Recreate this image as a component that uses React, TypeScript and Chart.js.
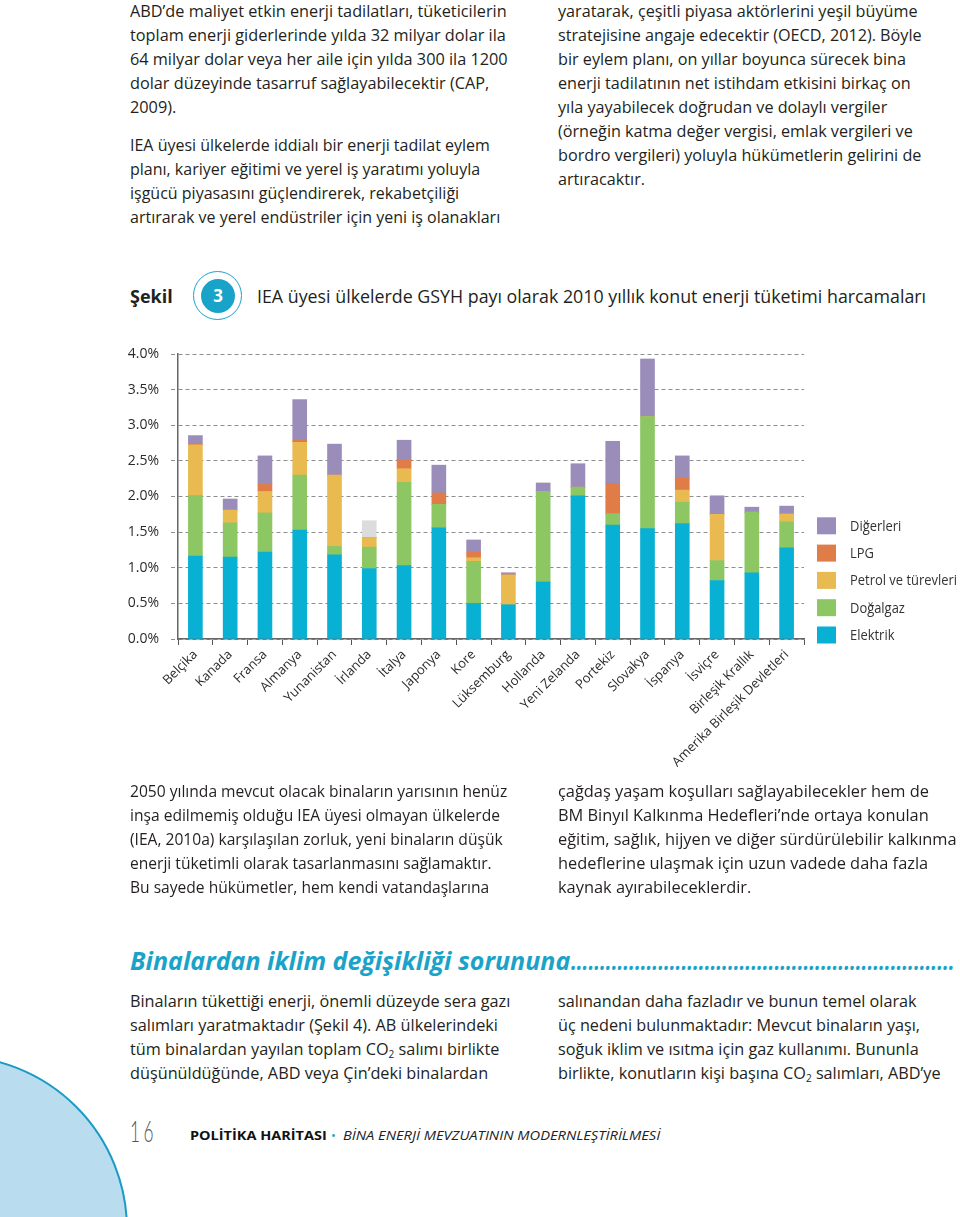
import React, { useEffect, useLayoutEffect, useRef, useState } from "react";
import { Chart, registerables } from "chart.js";
Chart.register(...registerables);

// ---------- chart data ----------
const countries = [
  "Belçika", "Kanada", "Fransa", "Almanya", "Yunanistan", "İrlanda", "İtalya", "Japonya", "Kore",
  "Lüksemburg", "Hollanda", "Yeni Zelanda", "Portekiz", "Slovakya", "İspanya", "İsviçre",
  "Birleşik Krallık", "Amerika Birleşik Devletleri",
];
const elektrik = [1.165, 1.15, 1.22, 1.53, 1.18, 0.99, 1.03, 1.56, 0.5, 0.48, 0.8, 2.01, 1.6, 1.55, 1.62, 0.82, 0.93, 1.28];
const dogalgaz = [0.85, 0.48, 0.55, 0.77, 0.12, 0.3, 1.17, 0.33, 0.59, 0, 1.27, 0.12, 0.155, 1.57, 0.3, 0.28, 0.85, 0.365];
const petrol = [0.71, 0.18, 0.3, 0.46, 1.0, 0.135, 0.19, 0, 0.05, 0.42, 0, 0, 0, 0, 0.17, 0.65, 0, 0.11];
const lpg = [0.02, 0, 0.1, 0.03, 0, 0, 0.13, 0.16, 0.08, 0, 0, 0, 0.43, 0, 0.17, 0, 0, 0];
const digerleri = [0.11, 0.155, 0.4, 0.57, 0.435, 0.235, 0.27, 0.39, 0.17, 0.03, 0.12, 0.33, 0.59, 0.81, 0.31, 0.26, 0.07, 0.11];
const yTicks = [0, 0.5, 1, 1.5, 2, 2.5, 3, 3.5, 4];

const seriesLabels = ["Elektrik", "Doğalgaz", "Petrol ve türevleri", "LPG", "Diğerleri"];
const seriesColors = ["#08b1d4", "#8dc764", "#e9ba4f", "#e07c47", "#9b8dba"];
const otherGrey = "#dcdcdc"; // İrlanda "Diğerleri" segment

// ---------- page text ----------
const topLeftP1 = [
  "ABD’de maliyet etkin enerji tadilatları, tüketicilerin",
  "toplam enerji giderlerinde yılda 32 milyar dolar ila",
  "64 milyar dolar veya her aile için yılda 300 ila 1200",
  "dolar düzeyinde tasarruf sağlayabilecektir (CAP,",
  "2009).",
];
const topLeftP2 = [
  "IEA üyesi ülkelerde iddialı bir enerji tadilat eylem",
  "planı, kariyer eğitimi ve yerel iş yaratımı yoluyla",
  "işgücü piyasasını güçlendirerek, rekabetçiliği",
  "artırarak ve yerel endüstriler için yeni iş olanakları",
];
const topRight = [
  "yaratarak, çeşitli piyasa aktörlerini yeşil büyüme",
  "stratejisine angaje edecektir (OECD, 2012). Böyle",
  "bir eylem planı, on yıllar boyunca sürecek bina",
  "enerji tadilatının net istihdam etkisini birkaç on",
  "yıla yayabilecek doğrudan ve dolaylı vergiler",
  "(örneğin katma değer vergisi, emlak vergileri ve",
  "bordro vergileri) yoluyla hükümetlerin gelirini de",
  "artıracaktır.",
];
const midLeft = [
  "2050 yılında mevcut olacak binaların yarısının henüz",
  "inşa edilmemiş olduğu IEA üyesi olmayan ülkelerde",
  "(IEA, 2010a) karşılaşılan zorluk, yeni binaların düşük",
  "enerji tüketimli olarak tasarlanmasını sağlamaktır.",
  "Bu sayede hükümetler, hem kendi vatandaşlarına",
];
const midRight = [
  "çağdaş yaşam koşulları sağlayabilecekler hem de",
  "BM Binyıl Kalkınma Hedefleri’nde ortaya konulan",
  "eğitim, sağlık, hijyen ve diğer sürdürülebilir kalkınma",
  "hedeflerine ulaşmak için uzun vadede daha fazla",
  "kaynak ayırabileceklerdir.",
];
const sub2 = (
  <sub style={{ fontSize: "0.62em", verticalAlign: "-0.3em", lineHeight: 0 }}>2</sub>
);
const botLeft: React.ReactNode[] = [
  "Binaların tükettiği enerji, önemli düzeyde sera gazı",
  "salımları yaratmaktadır (Şekil 4). AB ülkelerindeki",
  <>tüm binalardan yayılan toplam CO{sub2} salımı birlikte</>,
  "düşünüldüğünde, ABD veya Çin’deki binalardan",
];
const botRight: React.ReactNode[] = [
  "salınandan daha fazladır ve bunun temel olarak",
  "üç nedeni bulunmaktadır: Mevcut binaların yaşı,",
  "soğuk iklim ve ısıtma için gaz kullanımı. Bununla",
  <>birlikte, konutların kişi başına CO{sub2} salımları, ABD’ye</>,
];

const FONT = '"Open Sans", "Noto Sans", sans-serif';
const TEXT = "#231f20";
const CYAN = "#1aa3c9";

function Block(props: {
  x: number; y: number; lh?: number; lines: React.ReactNode[]; refIdx?: number; refW?: number;
  style?: React.CSSProperties;
}) {
  const { x, y, lh = 24, lines, refIdx = 0, refW, style } = props;
  const refs = useRef<(HTMLSpanElement | null)[]>([]);
  const [s, setS] = useState(1);
  useLayoutEffect(() => {
    const el = refs.current[refIdx];
    if (el && refW && el.offsetWidth > 0) setS(refW / el.offsetWidth);
  }, [refIdx, refW]);
  return (
    <>
      {lines.map((ln, i) => (
        <span
          key={i}
          ref={(el) => { refs.current[i] = el; }}
          style={{
            position: "absolute", left: x, top: y + i * lh - lh / 2, height: lh, lineHeight: lh + "px",
            whiteSpace: "nowrap", transform: `scaleX(${s})`, transformOrigin: "0 50%",
            fontFamily: FONT, fontSize: 16, color: TEXT, ...style,
          }}
        >
          {ln}
        </span>
      ))}
    </>
  );
}

const legendPlugin = {
  id: "sideLegend",
  afterDraw(chart: any) {
    const { ctx, chartArea } = chart;
    const dss = chart.data.datasets.slice().reverse();
    const x = chartArea.right + 13;
    const step = 27.3;
    ctx.save();
    ctx.font = `14px ${FONT}`;
    const target = 107;
    const sx = target / ctx.measureText("Petrol ve türevleri").width;
    dss.forEach((ds: any, i: number) => {
      const cy = chartArea.bottom - 4 - (dss.length - 1 - i) * step;
      ctx.fillStyle = ds.legendColor;
      ctx.fillRect(x, cy - 8.5, 19, 17);
      ctx.fillStyle = "#333";
      ctx.textBaseline = "middle";
      ctx.save();
      ctx.translate(x + 33, cy + 1);
      ctx.scale(sx, 1);
      ctx.fillText(ds.label, 0, 0);
      ctx.restore();
    });
    ctx.restore();
  },
};

function EnergyChart() {
  const ref = useRef<HTMLCanvasElement>(null);
  useEffect(() => {
    if (!ref.current) return;
    const values = [elektrik, dogalgaz, petrol, lpg, digerleri];
    const datasets = values.map((v, i) => ({
      label: seriesLabels[i],
      data: v,
      backgroundColor: i === 4 ? v.map((_, j) => (j === 5 ? otherGrey : seriesColors[4])) : seriesColors[i],
      legendColor: seriesColors[i],
      borderWidth: 0,
      barThickness: 14,
    }));
    const chart = new Chart(ref.current, {
      type: "bar",
      data: { labels: countries, datasets: datasets as any },
      options: {
        animation: false,
        responsive: false,
        maintainAspectRatio: false,
        layout: { padding: { left: 0, right: 156, top: 24, bottom: 0 } },
        plugins: { legend: { display: false }, tooltip: { enabled: false } },
        scales: {
          x: {
            stacked: true,
            afterFit: (s: any) => { s.height = 141; },
            grid: { drawOnChartArea: false, drawTicks: true, tickLength: 6, color: "#555", offset: true },
            border: { display: true, color: "#666", width: 1.5 },
            ticks: {
              autoSkip: false, minRotation: 45, maxRotation: 45, padding: 2,
              color: "#2b2b2b", font: { family: FONT, size: 13 },
            },
          },
          y: {
            stacked: true,
            min: 0, max: 4,
            afterFit: (s: any) => { s.width = 178; },
            afterBuildTicks: (s: any) => { s.ticks = yTicks.map((v) => ({ value: v })); },
            grid: {
              color: "#8e8e8e", lineWidth: 1, tickLength: 7, drawTicks: true,
              tickBorderDash: [4, 3], tickColor: "#8e8e8e",
            } as any,
            border: { display: true, color: "#666", width: 1.5, dash: [4, 3] } as any,
            ticks: {
              padding: 12, color: "#2b2b2b", font: { family: FONT, size: 14 },
              callback: (v: any) => Number(v).toFixed(1) + "%",
            },
          },
        },
      },
      plugins: [legendPlugin],
    } as any);
    return () => chart.destroy();
  }, []);
  return (
    <canvas ref={ref} width={960} height={450}
      style={{ position: "absolute", left: 0, top: 330, width: 960, height: 450 }} />
  );
}

export default function App() {
  return (
    <div style={{ position: "absolute", left: 0, top: 0, width: 960, height: 1217, overflow: "hidden", background: "#fff" }}>
      <Block x={130} y={11} lines={topLeftP1} refIdx={0} refW={377} />
      <Block x={130} y={145} lines={topLeftP2} refIdx={3} refW={370} />
      <Block x={558} y={11} lines={topRight} refIdx={1} refW={364} />

      {/* figure caption */}
      <Block x={130} y={296} lh={30} lines={["Şekil"]} refW={43} style={{ fontWeight: 700, fontSize: 18 }} />
      <div style={{
        position: "absolute", left: 218 - 25, top: 296 - 25, width: 47, height: 47, borderRadius: "50%",
        border: `1.5px solid ${CYAN}`,
      }} />
      <div style={{
        position: "absolute", left: 218 - 17, top: 296 - 17, width: 34, height: 34, borderRadius: "50%",
        background: CYAN, color: "#fff", fontFamily: FONT, fontWeight: 700, fontSize: 17,
        lineHeight: "34px", textAlign: "center",
      }}>3</div>
      <Block x={257} y={296} lh={30}
        lines={["IEA üyesi ülkelerde GSYH payı olarak 2010 yıllık konut enerji tüketimi harcamaları"]}
        refW={669} style={{ fontSize: 18 }} />

      <EnergyChart />

      <Block x={130} y={791} lines={midLeft} refIdx={0} refW={377} />
      <Block x={558} y={791} lines={midRight} refIdx={2} refW={399} />

      <Block x={130} y={960} lh={34} lines={["Binalardan iklim değişikliği sorununa"]} refW={440}
        style={{ fontSize: 25, fontWeight: 700, fontStyle: "italic", color: CYAN }} />
      <Block x={571} y={960} lh={34} lines={[".".repeat(66)]} refW={384}
        style={{ fontSize: 25, fontWeight: 700, fontStyle: "italic", color: CYAN }} />

      <Block x={130} y={1001} lines={botLeft} refIdx={0} refW={380} />
      <Block x={558} y={1001} lines={botRight} refIdx={3} refW={382} />

      {/* footer */}
      <div style={{
        position: "absolute", left: -221, top: 1055, width: 349, height: 349, borderRadius: "50%",
        background: "#b9dcee", border: "2px solid #1a9bc4", boxSizing: "border-box",
      }} />
      <Block x={130} y={1130} lh={34} lines={["16"]} refW={27}
        style={{ fontSize: 30, fontWeight: 300, color: "#555", letterSpacing: 6, fontFamily: '"Lato", sans-serif' }} />
      <Block x={190} y={1135} lh={20} lines={["POLİTİKA HARİTASI"]} refW={137}
        style={{ fontSize: 13, fontWeight: 700, color: "#111" }} />
      <Block x={331} y={1135} lh={20} lines={["•"]} style={{ fontSize: 13, color: CYAN }} />
      <Block x={343} y={1135} lh={20} lines={["BİNA ENERJİ MEVZUATININ MODERNLEŞTİRİLMESİ"]} refW={317}
        style={{ fontSize: 13, fontStyle: "italic", color: "#222" }} />
    </div>
  );
}
